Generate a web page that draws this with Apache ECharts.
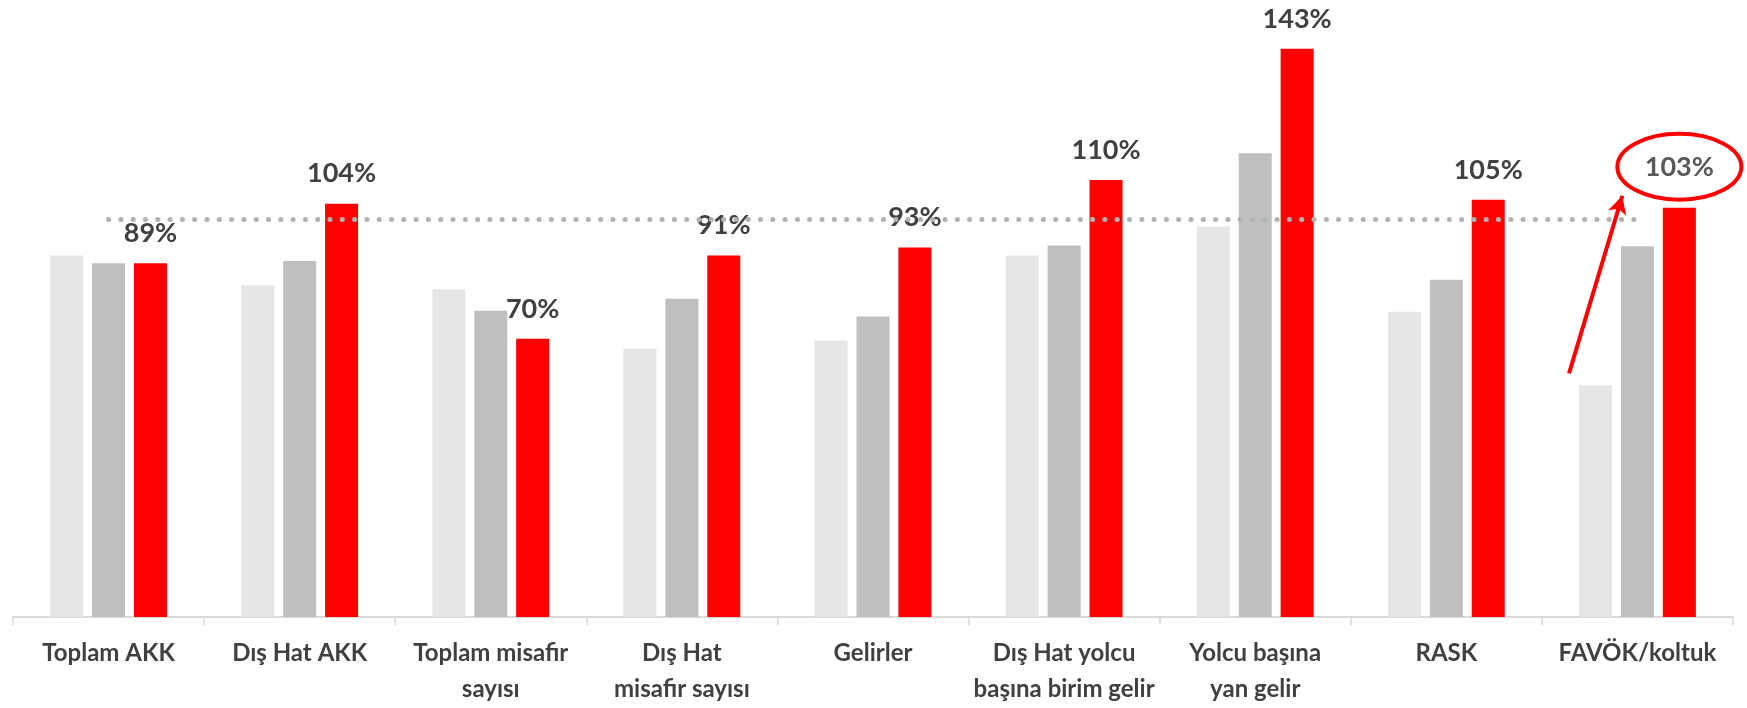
<!DOCTYPE html>
<html>
<head>
<meta charset="utf-8">
<script src="https://cdn.jsdelivr.net/npm/echarts@6/dist/echarts.min.js"></script>
<style>
    html, body { margin: 0; padding: 0; background: #fff; }
    #chart { width: 1747px; height: 708px; }
</style>
</head>
<body>
<div id="chart"></div>
<script>
// ==========================================
// 데이터
// ==========================================
const categories = [
    'Toplam AKK',
    'Dış Hat AKK',
    'Toplam misafir\nsayısı',
    'Dış Hat\nmisafir sayısı',
    'Gelirler',
    'Dış Hat yolcu\nbaşına birim gelir',
    'Yolcu başına\nyan gelir',
    'RASK',
    'FAVÖK/koltuk'
];
const lightValues = [91, 83.5, 82.5, 67.6, 69.6, 91, 98.3, 76.8, 58.3];
const midValues = [89, 89.6, 77.1, 80.1, 75.6, 93.5, 116.7, 84.9, 93.3];
const redValues = [89, 104, 70, 91, 93, 110, 143, 105, 103];
const referenceLevel = 100;
const highlightIndex = 8; // FAVÖK/koltuk: 동그라미 + 화살표

const FONT = 'Lato';
const RED = '#ff0000';

const chart = echarts.init(document.getElementById('chart'));

const redData = redValues.map((v, i) => (
    i === highlightIndex ? { value: v, label: { offset: [0, -10], color: '#595959' } } : v
));

chart.setOption({
    animation: false,
    backgroundColor: '#fff',
    grid: { left: 13, right: 14, top: 21, bottom: 91 },
    xAxis: {
        type: 'category',
        data: categories,
        axisLine: { lineStyle: { color: '#d9d9d9', width: 2 } },
        axisTick: { show: true, length: 8, lineStyle: { color: '#d9d9d9', width: 1.5 } },
        axisLabel: {
            interval: 0,
            margin: 18,
            color: '#404040',
            fontFamily: FONT,
            fontWeight: 'bold',
            fontSize: 24,
            lineHeight: 36
        }
    },
    yAxis: {
        type: 'value',
        min: 0,
        max: 150,
        show: false,
        splitLine: { show: false }
    },
    series: [
        {
            type: 'bar',
            data: lightValues,
            barWidth: 33,
            barGap: '27%',
            itemStyle: { color: '#e6e6e6' },
            silent: true
        },
        {
            type: 'bar',
            data: midValues,
            barWidth: 33,
            barGap: '27%',
            itemStyle: { color: '#bfbfbf' },
            silent: true,
            markLine: {
                silent: true,
                symbol: 'none',
                label: { show: false },
                lineStyle: { color: '#b5b1b1', width: 5, type: [0.1, 12.2], cap: 'round' },
                data: [[{ coord: [0, referenceLevel] }, { coord: [categories.length - 1, referenceLevel] }]]
            }
        },
        {
            type: 'bar',
            data: redData,
            barWidth: 33,
            barGap: '27%',
            itemStyle: { color: RED },
            silent: true,
            label: {
                show: true,
                position: 'top',
                distance: 15,
                formatter: '{c}%',
                color: '#404040',
                fontFamily: FONT,
                fontWeight: 'bold',
                fontSize: 27,
                lineHeight: 30
            }
        }
    ]
});

// 동그라미와 화살표: 막대 레이아웃에서 위치를 구함
const model = chart.getModel();
const lightBar = model.getSeriesByIndex(0).getData().getItemLayout(highlightIndex);
const redBar = model.getSeriesByIndex(2).getData().getItemLayout(highlightIndex);
const redTop = redBar.y + redBar.height; // height 는 음수
const circleX = redBar.x + redBar.width / 2;
const circleY = redTop - 41;
const lightTop = lightBar.y + lightBar.height;

chart.setOption({
    graphic: [
        {
            type: 'ellipse',
            shape: { cx: circleX, cy: circleY, rx: 62, ry: 33 },
            style: { fill: 'none', stroke: RED, lineWidth: 4 },
            silent: true
        }
    ],
    series: [{}, {}, {
        markLine: {
            silent: true,
            symbol: ['none', 'arrow'],
            symbolSize: [14, 18],
            label: { show: false },
            lineStyle: { color: RED, width: 4, type: 'solid' },
            data: [[
                { x: lightBar.x - 10, y: lightTop - 12 },
                { x: circleX - 57, y: circleY + 29 }
            ]]
        }
    }]
});
</script>
</body>
</html>
